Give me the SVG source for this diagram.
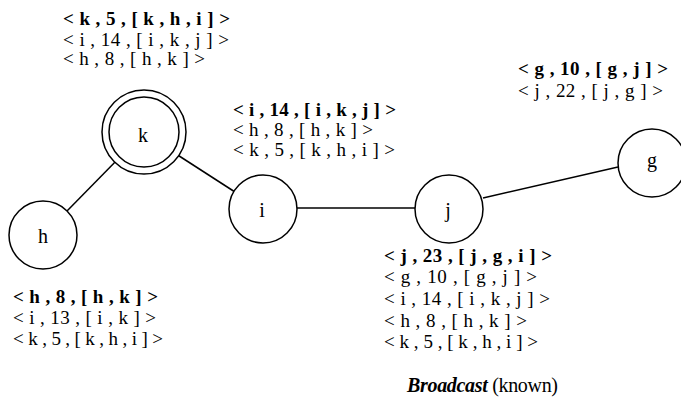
<svg xmlns="http://www.w3.org/2000/svg" width="681" height="403" viewBox="0 0 681 403">
<style>
.n{fill:#fff;stroke:#000;stroke-width:1.5}
.e{stroke:#000;stroke-width:1.5;fill:none}
.lbl{font-family:"Liberation Serif","Times New Roman",serif;font-size:20px;text-anchor:middle;fill:#000}
.t{font-family:"Liberation Serif","Times New Roman",serif;font-size:19px;fill:#000}
.b{font-weight:bold}
</style>
<rect width="681" height="403" fill="#fff"/>
<g id="connectors">
<line class="e" x1="67" y1="211" x2="120" y2="157"/>
<line class="e" x1="173" y1="152" x2="235" y2="192"/>
<line class="e" x1="297" y1="208" x2="415" y2="208"/>
<line class="e" x1="483" y1="198" x2="618" y2="167"/>
</g>
<g id="node-k">
<circle class="n" cx="144" cy="132" r="42"/>
<circle class="n" cx="144" cy="132" r="35"/>
<text class="lbl" x="143" y="141.5">k</text>
</g>
<g id="node-h">
<circle class="n" cx="43" cy="235" r="34"/>
<text class="lbl" x="43" y="243">h</text>
</g>
<g id="node-i">
<circle class="n" cx="263" cy="209" r="34"/>
<text class="lbl" x="262" y="216.5">i</text>
</g>
<g id="node-j">
<circle class="n" cx="449" cy="209" r="34"/>
<text class="lbl" x="448" y="216.5">j</text>
</g>
<g id="node-g">
<circle class="n" cx="652" cy="163" r="34"/>
<text class="lbl" x="652" y="167">g</text>
</g>
<g id="table-k">
<text class="t b" x="63" y="25" textLength="167" lengthAdjust="spacing">&lt; k , 5 , [ k , h , i ] &gt;</text>
<text class="t" x="63" y="46" textLength="166" lengthAdjust="spacing">&lt; i , 14 , [ i , k , j ] &gt;</text>
<text class="t" x="63" y="65" textLength="142" lengthAdjust="spacing">&lt; h , 8 , [ h , k ] &gt;</text>
</g>
<g id="table-i">
<text class="t b" x="233" y="116" textLength="163" lengthAdjust="spacing">&lt; i , 14 , [ i , k , j ] &gt;</text>
<text class="t" x="233" y="136" textLength="140" lengthAdjust="spacing">&lt; h , 8 , [ h , k ] &gt;</text>
<text class="t" x="233" y="155.5" textLength="162" lengthAdjust="spacing">&lt; k , 5 , [ k , h , i ] &gt;</text>
</g>
<g id="table-g">
<text class="t b" x="518" y="75" textLength="150" lengthAdjust="spacing">&lt; g , 10 , [ g , j ] &gt;</text>
<text class="t" x="518" y="97" textLength="145" lengthAdjust="spacing">&lt; j , 22 , [ j , g ] &gt;</text>
</g>
<g id="table-h">
<text class="t b" x="13" y="302.5" textLength="145" lengthAdjust="spacing">&lt; h , 8 , [ h , k ] &gt;</text>
<text class="t" x="13" y="324" textLength="143" lengthAdjust="spacing">&lt; i , 13 , [ i , k ] &gt;</text>
<text class="t" x="13" y="345" textLength="150" lengthAdjust="spacing">&lt; k , 5 , [ k , h , i ] &gt;</text>
</g>
<g id="table-j">
<text class="t b" x="384" y="262" textLength="168" lengthAdjust="spacing">&lt; j , 23 , [ j , g , i ] &gt;</text>
<text class="t" x="384" y="283" textLength="153" lengthAdjust="spacing">&lt; g , 10 , [ g , j ] &gt;</text>
<text class="t" x="384" y="305" textLength="166" lengthAdjust="spacing">&lt; i , 14 , [ i , k , j ] &gt;</text>
<text class="t" x="384" y="327" textLength="143" lengthAdjust="spacing">&lt; h , 8 , [ h , k ] &gt;</text>
<text class="t" x="384" y="348" textLength="154" lengthAdjust="spacing">&lt; k , 5 , [ k , h , i ] &gt;</text>
</g>
<g id="caption">
<text class="t" x="407" y="392" style="font-size:20px" textLength="151" lengthAdjust="spacing"><tspan font-weight="bold" font-style="italic">Broadcast</tspan> (known)</text>
</g>
</svg>
